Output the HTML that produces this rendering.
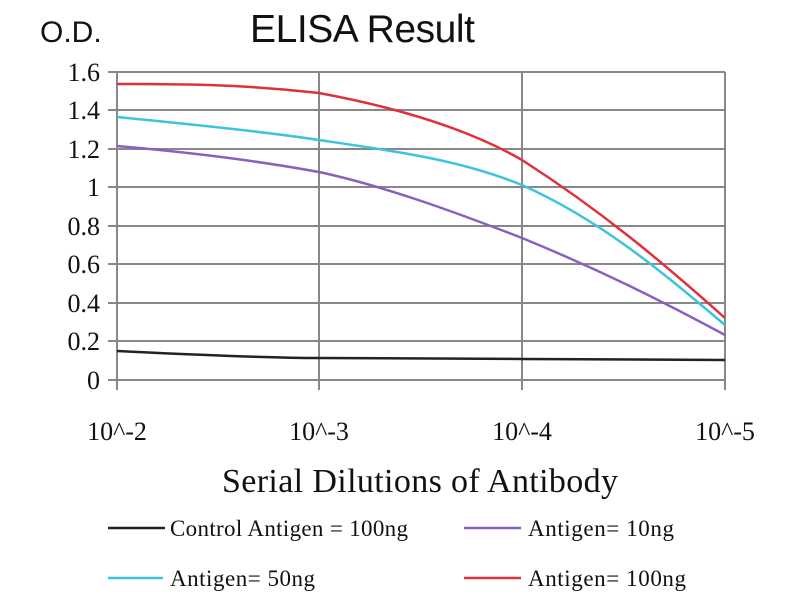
<!DOCTYPE html>
<html><head><style>
body{margin:0;background:#fff;}
svg text{font-family:"Liberation Serif",serif;fill:#111;}
</style></head><body>
<svg width="800" height="600" xmlns="http://www.w3.org/2000/svg">
<text x="40" y="42" style="font-family:'Liberation Sans',sans-serif" font-size="30">O.D.</text>
<text x="250" y="42" style="font-family:'Liberation Sans',sans-serif" font-size="39" textLength="225">ELISA Result</text>
<g stroke="#888" stroke-width="2">
<line x1="108" y1="72" x2="725" y2="72"/>
<line x1="108" y1="110" x2="725" y2="110"/>
<line x1="108" y1="149" x2="725" y2="149"/>
<line x1="108" y1="187" x2="725" y2="187"/>
<line x1="108" y1="226" x2="725" y2="226"/>
<line x1="108" y1="264" x2="725" y2="264"/>
<line x1="108" y1="303" x2="725" y2="303"/>
<line x1="108" y1="341" x2="725" y2="341"/>
<line x1="108" y1="380" x2="725" y2="380"/>
<line x1="117" y1="72" x2="117" y2="390"/>
<line x1="319" y1="72" x2="319" y2="390"/>
<line x1="522" y1="72" x2="522" y2="390"/>
<line x1="725" y1="72" x2="725" y2="390"/>
</g>
<g font-size="26" text-anchor="end">
<text x="100" y="81">1.6</text><text x="100" y="119">1.4</text><text x="100" y="158">1.2</text>
<text x="100" y="196">1</text><text x="100" y="235">0.8</text><text x="100" y="273">0.6</text>
<text x="100" y="312">0.4</text><text x="100" y="350">0.2</text><text x="100" y="389">0</text>
</g>
<g font-size="26" text-anchor="middle">
<text x="117" y="440">10^-2</text><text x="319" y="440">10^-3</text>
<text x="522" y="440">10^-4</text><text x="725" y="440">10^-5</text>
</g>
<text x="222" y="492" font-size="34" textLength="396">Serial Dilutions of Antibody</text>
<g fill="none" stroke-width="2.5">
<path d="M117,351 C220,356 280,358 319,358 L522,359 L725,360" stroke="#222"/>
<path d="M117,146 C220,155 280,165 319,172 C380,185 450,210 522,238 C600,270 660,300 725,335" stroke="#8a5fc0"/>
<path d="M117,117 C220,127 280,134 319,140 C400,152 460,160 522,185 C600,220 660,270 725,325" stroke="#3cc4dc"/>
<path d="M117,84 C180,84 240,84 319,93 C400,108 470,130 522,160 C600,210 660,260 725,318" stroke="#e0303a"/>
</g>
<g stroke-width="2.5">
<line x1="108" y1="528" x2="165" y2="528" stroke="#222"/>
<line x1="464" y1="528" x2="521" y2="528" stroke="#8a5fc0"/>
<line x1="108" y1="578" x2="163" y2="578" stroke="#3cc4dc"/>
<line x1="464" y1="578" x2="521" y2="578" stroke="#e0303a"/>
</g>
<g font-size="23">
<text x="170" y="536" textLength="238">Control Antigen = 100ng</text>
<text x="528" y="536" textLength="146">Antigen= 10ng</text>
<text x="170" y="586" textLength="145">Antigen= 50ng</text>
<text x="528" y="586" textLength="158">Antigen= 100ng</text>
</g>
</svg>
</body></html>
